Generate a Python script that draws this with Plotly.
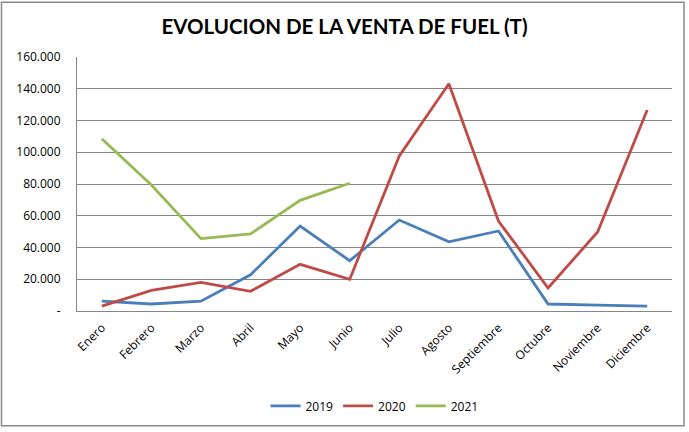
import plotly.graph_objects as go

months = ["Enero", "Febrero", "Marzo", "Abril", "Mayo", "Junio", "Julio",
          "Agosto", "Septiembre", "Octubre", "Noviembre", "Diciembre"]
v2019 = [6200, 4400, 6200, 22800, 53500, 31700, 57300, 43600, 50400, 4400, 3700, 3100]
v2020 = [3100, 13000, 18000, 12400, 29400, 19900, 97700, 143200, 56700, 14500, 49800, 126600]
v2021 = [108500, 79400, 45600, 48600, 69700, 80500]
y_tickvals = [0, 20000, 40000, 60000, 80000, 100000, 120000, 140000, 160000]
y_ticktext = ["-", "20.000", "40.000", "60.000", "80.000", "100.000", "120.000", "140.000", "160.000"]

series = [("2019", v2019, "#4A7EBB"), ("2020", v2020, "#BE4B48"), ("2021", v2021, "#98B954")]

fig = go.Figure()
for name, vals, col in series:
    fig.add_trace(go.Scatter(x=months[:len(vals)], y=vals, name=name, mode="lines",
                             line=dict(color=col, width=2.8)))

L, R, T, B = 77, 17, 57, 118
W, H = 689, 432
pw, ph = W - L - R, H - T - B

fig.update_layout(
    width=W, height=H,
    margin=dict(l=L, r=R, t=T, b=B),
    paper_bgcolor="white", plot_bgcolor="white",
    font=dict(family="Open Sans", size=12, color="black"),
    title=dict(text="<b>EVOLUCION DE LA VENTA DE FUEL (T)</b>", x=0.5, xanchor="center",
               y=1 - 27 / H, yanchor="middle",
               font=dict(family="Lato", size=20.5, color="black")),
    showlegend=True,
    legend=dict(orientation="h", x=0.5, xanchor="center", y=(T + ph - 410) / ph, yanchor="middle",
                font=dict(size=12), itemwidth=30, tracegroupgap=0),
    xaxis=dict(type="category", categoryorder="array", categoryarray=months,
               tickangle=-45, showgrid=False, showline=True, linecolor="#868686", linewidth=1,
               ticks="", range=[-0.5, 11.5], ticklabelstandoff=4, tickfont=dict(size=12)),
    yaxis=dict(range=[0, 160000], tickvals=y_tickvals, ticktext=y_ticktext,
               showgrid=True, gridcolor="#868686", gridwidth=1, zeroline=False,
               showline=True, linecolor="#868686", linewidth=1, ticks="",
               ticklabelstandoff=13, tickfont=dict(size=12)),
    shapes=[
        dict(type="rect", xref="paper", yref="paper",
             x0=(1.5 - L) / pw, x1=(684 - L) / pw,
             y0=(T + ph - 430) / ph, y1=(T + ph - 1.5) / ph,
             line=dict(color="#888888", width=1.5), fillcolor="rgba(0,0,0,0)", layer="below"),
    ],
)

fig.write_html("out.html", config={"displayModeBar": False},
               post_script="document.body.style.margin='0';document.body.style.overflow='hidden';")
